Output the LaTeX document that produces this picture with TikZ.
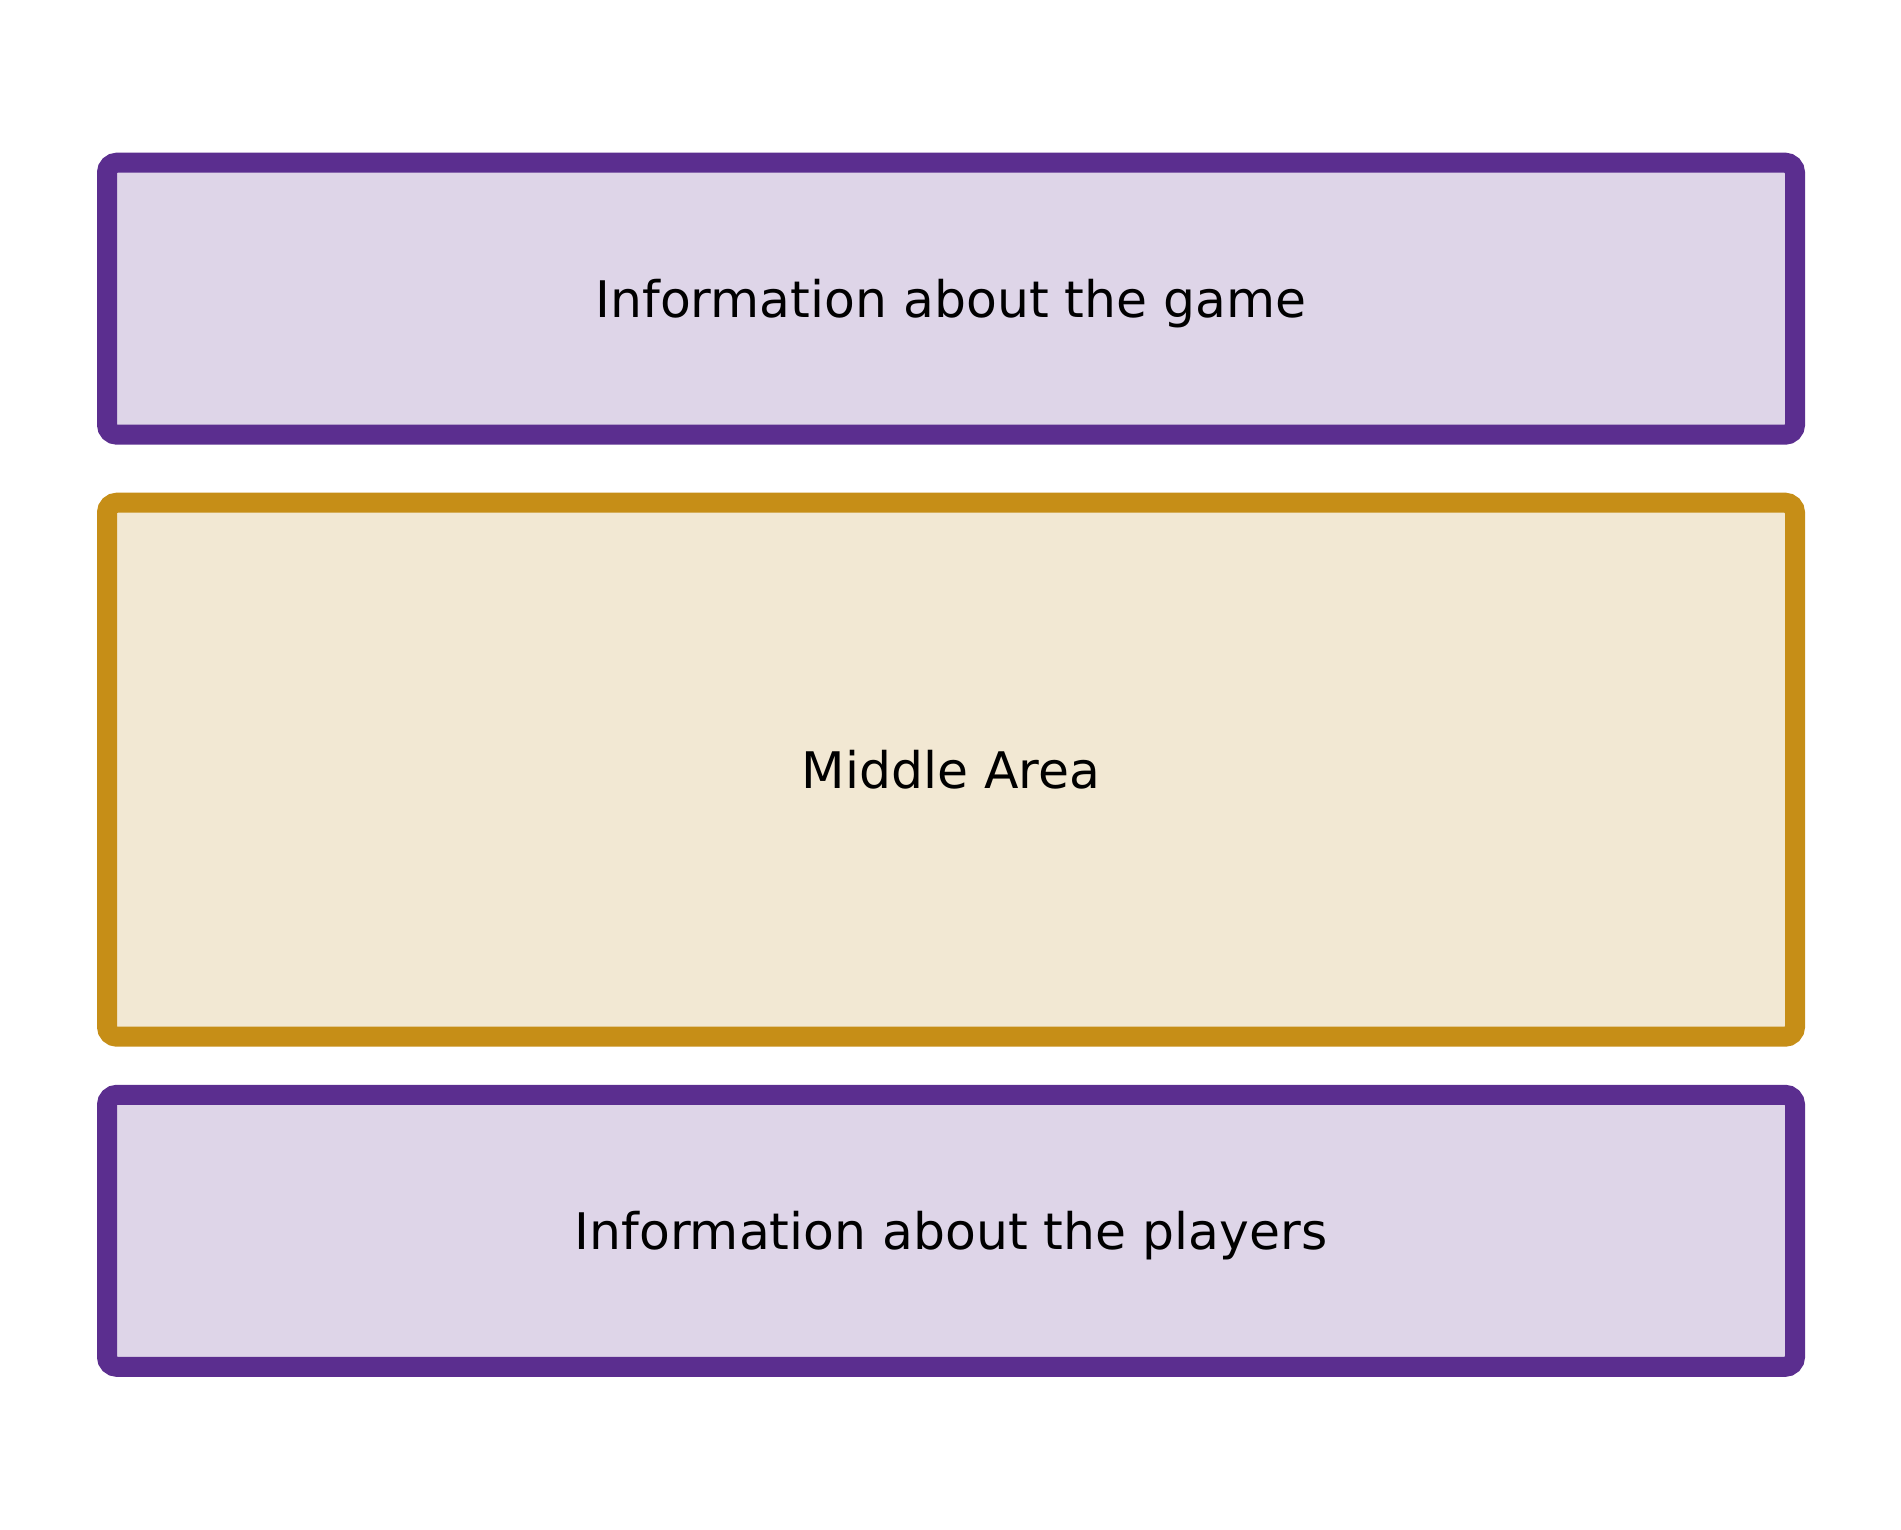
\documentclass[tikz,border=0pt]{standalone}
\usepackage{fontspec}
\setmainfont{DejaVu Sans}
\definecolor{panelpurple}{RGB}{91,46,143}
\definecolor{panellilac}{RGB}{222,213,232}
\definecolor{panelgold}{RGB}{198,142,23}
\definecolor{panelcream}{RGB}{242,232,211}

\begin{document}
\begin{tikzpicture}[
    x=1pt, y=-1pt,
    font=\fontsize{50.4}{60}\selectfont,
    panel/.style={rectangle, rounded corners=10pt, line width=20pt,
        minimum width=1688pt, inner sep=0pt, text height=37pt, text depth=0pt},
    infopanel/.style={panel, draw=panelpurple, fill=panellilac, minimum height=272pt},
    middlepanel/.style={panel, draw=panelgold, fill=panelcream, minimum height=534pt}
]
\useasboundingbox (0,0) rectangle (1901,1530);

% ── Panels ──────────────────────────────────────────────────
\node[infopanel]   (game)    at (951, 298.7)  {Information about the game};
\node[middlepanel] (middle)  at (951, 769.7)  {Middle Area};
\node[infopanel]   (players) at (951, 1230.8) {Information about the players};

\end{tikzpicture}
\end{document}
